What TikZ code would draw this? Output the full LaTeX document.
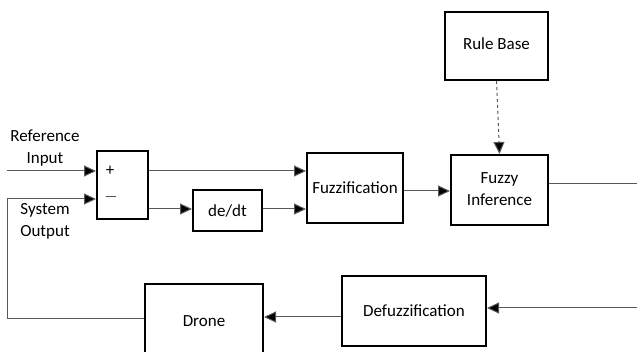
\documentclass[tikz,border=0pt]{standalone}
\usepackage{fontspec}
\setmainfont{Carlito}
\usetikzlibrary{arrows.meta,positioning}
\usetikzlibrary{calc}

\tikzset{
  block/.style={draw=black,line width=2pt,inner sep=0pt,align=center},
  wire/.style={draw=black!65,line width=1pt},
  feed/.style={wire,-{Triangle[length=12pt,width=11pt,fill=black]}},
}

\begin{document}
\begin{tikzpicture}[x=1pt,y=-1pt,font=\fontsize{17}{22}\selectfont]
\clip (0,0) rectangle (637,352);
\fill[white] (0,0) rectangle (637,352);
% blocks
\node[block,minimum width=51pt,minimum height=68pt] (sum) at (122.5,185) {};
\node (plus) at (110,171) {+};
\node (minus) at (111,197) {$-$};
\node[block,minimum width=69pt,minimum height=41pt] (deriv) at (227.5,210.5) {de/dt};
\node[block,minimum width=96pt,minimum height=70pt] (fuzz) at (355,188) {Fuzzification};
\node[block,minimum width=97pt,minimum height=70pt] (infer) at (499.5,190)
  {\raisebox{5pt}{\begin{tabular}{@{}c@{}}Fuzzy\\Inference\end{tabular}}};
\node[block,minimum width=103pt,minimum height=68pt] (rules) at (496.5,46)
  {\raisebox{4pt}{Rule Base}};
\node[block,minimum width=144pt,minimum height=70pt] (defuzz) at (414,311) {Defuzzification};
\node[block,minimum width=118pt,minimum height=74pt] (drone) at (204,321) {Drone};
% signal labels
\node[align=center] (reflbl) at (45,148.5) {Reference\\Input};
\node[align=center] (outlbl) at (45,221.5) {System\\Output};
% wire ends
\coordinate (refin) at (7,171);
\coordinate (loop) at (7,319);
\coordinate (inferout) at (637,184);
\coordinate (defuzzin) at (637,308);
% connectors
\draw[feed] (refin) -- (refin -| sum.west);
\draw[feed] (drone.west |- loop) -- (loop) -- ++(0,-120) -- ($(sum.west)+(0,14)$);
\draw[feed] (refin -| sum.east) -- (refin -| fuzz.west);
\draw[feed] ($(sum.east)+(0,24)$) -- (deriv.west |- {$(sum.east)+(0,24)$});
\draw[feed] (deriv.east |- {$(sum.east)+(0,24)$}) -- (fuzz.west |- {$(sum.east)+(0,24)$});
\draw[feed] ($(fuzz.east)+(0,3)$) -- (infer.west |- {$(fuzz.east)+(0,3)$});
\draw[feed,dashed] (rules.south) -- (infer.north);
\draw[wire] (infer.east |- inferout) -- (inferout);
\draw[feed] (defuzzin) -- (defuzzin -| defuzz.east);
\draw[feed] ($(defuzz.west)+(0,6)$) -- (drone.east |- {$(defuzz.west)+(0,6)$});
\end{tikzpicture}
\end{document}
